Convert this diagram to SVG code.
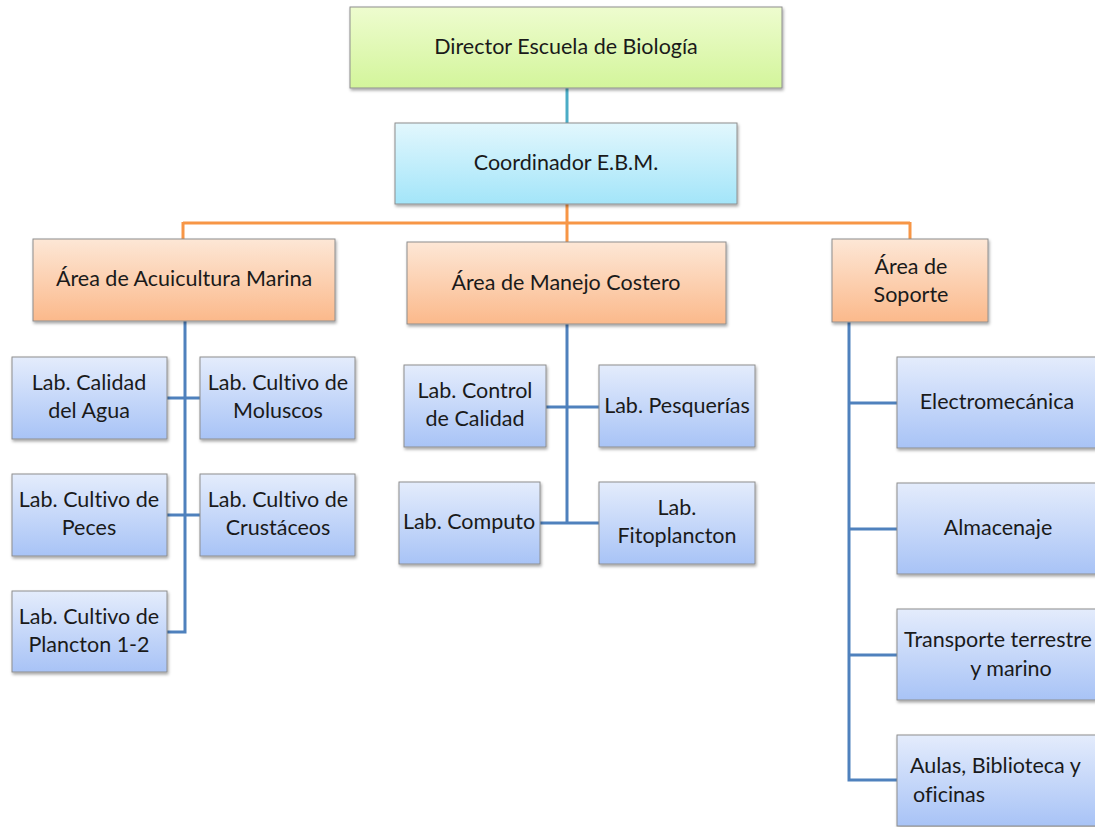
<svg xmlns="http://www.w3.org/2000/svg" width="1095" height="827" viewBox="0 0 1095 827">
<defs>
<linearGradient id="gGreen" x1="0" y1="0" x2="0" y2="1"><stop offset="0" stop-color="#eefccf"/><stop offset="1" stop-color="#d3f59b"/></linearGradient>
<linearGradient id="gCyan" x1="0" y1="0" x2="0" y2="1"><stop offset="0" stop-color="#e2f7fd"/><stop offset="1" stop-color="#a3e5f9"/></linearGradient>
<linearGradient id="gOrange" x1="0" y1="0" x2="0" y2="1"><stop offset="0" stop-color="#fde7d6"/><stop offset="1" stop-color="#fbb98b"/></linearGradient>
<linearGradient id="gBlue" x1="0" y1="0" x2="0" y2="1"><stop offset="0" stop-color="#e4ecfc"/><stop offset="1" stop-color="#a8c3f6"/></linearGradient>
<filter id="sh" x="-10%" y="-10%" width="120%" height="130%"><feDropShadow dx="1" dy="2" stdDeviation="1.5" flood-color="#000" flood-opacity="0.35"/></filter>
</defs>
<style>
rect{stroke:#8e8e8e;stroke-width:1;filter:url(#sh)}
.green{fill:url(#gGreen)}
.cyan{fill:url(#gCyan)}
.orange{fill:url(#gOrange)}
.blue{fill:url(#gBlue)}
text{font-family:Lato,"Open Sans","Liberation Sans",sans-serif;font-size:21.5px;fill:#1a1a1a;text-anchor:middle;font-variant-ligatures:none}
.l{text-anchor:start}
.c1{stroke:#4bacc6;stroke-width:3;fill:none}
.c2{stroke:#f79646;stroke-width:3;fill:none}
.c3{stroke:#4f81bd;stroke-width:3;fill:none}
</style>
<rect width="1095" height="827" fill="#fff" style="stroke:none;filter:none"/>
<g id="connectors">
<path class="c1" d="M567 88V123"/>
<path class="c2" d="M567 204V242M183 223H910M183 222V239M910 222V240"/>
<path class="c3" d="M185 321V632H167M167 398H200M167 515H200"/>
<path class="c3" d="M567 324V523M546 407H599M540 523H599"/>
<path class="c3" d="M849 322V780H897M849 403H897M849 529H897M849 655H897"/>
</g>
<g id="director"><rect class="green" x="350" y="7" width="432" height="81"/><text x="566" y="54">Director Escuela de Biología</text></g>
<g id="coordinador"><rect class="cyan" x="395" y="123" width="342" height="81"/><text x="566" y="170">Coordinador E.B.M.</text></g>
<g id="acuicultura"><rect class="orange" x="33" y="239" width="302" height="82"/><text x="184" y="286">Área de Acuicultura Marina</text></g>
<g id="manejo"><rect class="orange" x="407" y="242" width="319" height="82"/><text x="566" y="290">Área de Manejo Costero</text></g>
<g id="soporte"><rect class="orange" x="832" y="239" width="156" height="83"/><text x="911" y="274">Área de</text><text x="911" y="302">Soporte</text></g>
<g id="calidad-agua"><rect class="blue" x="12" y="357" width="155" height="82"/><text x="89" y="390">Lab. Calidad</text><text x="89" y="418">del Agua</text></g>
<g id="moluscos"><rect class="blue" x="200" y="357" width="155" height="82"/><text x="278" y="390">Lab. Cultivo de</text><text x="278" y="418">Moluscos</text></g>
<g id="peces"><rect class="blue" x="12" y="474" width="155" height="82"/><text x="89" y="507">Lab. Cultivo de</text><text x="89" y="535">Peces</text></g>
<g id="crustaceos"><rect class="blue" x="200" y="474" width="155" height="82"/><text x="278" y="507">Lab. Cultivo de</text><text x="278" y="535">Crustáceos</text></g>
<g id="plancton"><rect class="blue" x="12" y="591" width="155" height="81"/><text x="89" y="624">Lab. Cultivo de</text><text x="89" y="652">Plancton 1-2</text></g>
<g id="control-calidad"><rect class="blue" x="404" y="365" width="142" height="82"/><text x="475" y="398">Lab. Control</text><text x="475" y="426">de Calidad</text></g>
<g id="pesquerias"><rect class="blue" x="599" y="365" width="156" height="82"/><text x="677" y="413">Lab. Pesquerías</text></g>
<g id="computo"><rect class="blue" x="399" y="482" width="141" height="82"/><text x="469" y="529">Lab. Computo</text></g>
<g id="fitoplancton"><rect class="blue" x="599" y="482" width="156" height="82"/><text x="677" y="515">Lab.</text><text x="677" y="543">Fitoplancton</text></g>
<g id="electromecanica"><rect class="blue" x="897" y="357" width="206" height="91"/><text x="997" y="409">Electromecánica</text></g>
<g id="almacenaje"><rect class="blue" x="897" y="483" width="206" height="91"/><text x="998" y="535">Almacenaje</text></g>
<g id="transporte"><rect class="blue" x="897" y="609" width="206" height="91"/><text x="998" y="647">Transporte terrestre</text><text x="1011" y="676">y marino</text></g>
<g id="aulas"><rect class="blue" x="897" y="735" width="206" height="91"/><text class="l" x="910" y="773">Aulas, Biblioteca y</text><text class="l" x="913" y="802">oficinas</text></g>
</svg>
